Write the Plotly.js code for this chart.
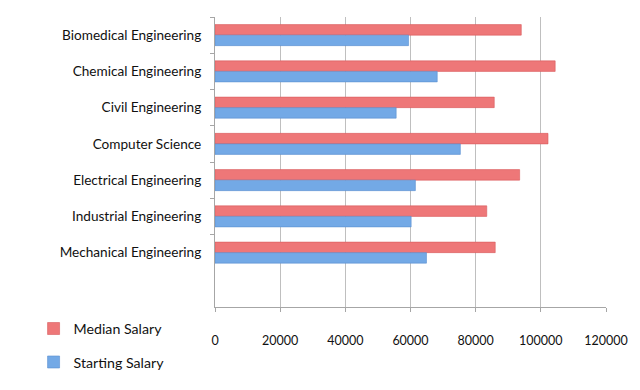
<!DOCTYPE html>
<html>
<head>
<meta charset="utf-8">
<script src="https://cdn.plot.ly/plotly-3.0.1.min.js"></script>
<style>html,body{margin:0;padding:0;background:#fff;}#chart{width:640px;height:390px;}</style>
</head>
<body>
<div id="chart"></div>
<script>
const categories = ["Biomedical Engineering","Chemical Engineering","Civil Engineering","Computer Science","Electrical Engineering","Industrial Engineering","Mechanical Engineering"];
const medianSalary = [94000,104400,85700,102200,93500,83400,86000];
const startingSalary = [59400,68200,55600,75300,61500,60200,64900];
const xTicks = [0,20000,40000,60000,80000,100000,120000];

const font = "Lato, 'Open Sans', sans-serif";
const traces = [
  {type:'bar', orientation:'h', name:'Median Salary', legendgroup:'m', y:categories, x:medianSalary,
   marker:{color:'#EE7778', line:{color:'#D95B5D', width:0.6}}},
  {type:'bar', orientation:'h', name:'Starting Salary', legendgroup:'s', y:categories, x:startingSalary,
   marker:{color:'#73A9E6', line:{color:'#5A8FD0', width:0.6}}}
];
const layout = {
  width:640, height:390,
  margin:{l:215, r:34, t:17, b:73, pad:0},
  paper_bgcolor:'#fff', plot_bgcolor:'#fff',
  font:{family:font, size:13, color:'#111'},
  barmode:'group', bargap:0.42, bargroupgap:0,
  xaxis:{range:[0,120000], tickvals:xTicks, ticktext:xTicks.map(String),
    showgrid:true, gridcolor:'#BFBFBF', gridwidth:1, zeroline:false,
    showline:true, linecolor:'#A6A6A6', linewidth:1,
    ticks:'outside', ticklen:4, tickcolor:'#A6A6A6', ticklabelstandoff:18,
    tickfont:{family:font, size:12.5, color:'#111'}},
  yaxis:{type:'category', categoryorder:'array', categoryarray:categories,
    range:[7.5,-0.5], showgrid:false, zeroline:false,
    showline:true, linecolor:'#A6A6A6', linewidth:1,
    ticks:'outside', ticklen:4, tickcolor:'#A6A6A6', tickson:'boundaries', ticklabelstandoff:10,
    tickfont:{family:font, size:13.6, color:'#111'}},
  showlegend:true,
  legend:{x:-0.464, xanchor:'left', y:-0.02, yanchor:'top', traceorder:'grouped', tracegroupgap:12,
    font:{family:font, size:14.2, color:'#111'}, bgcolor:'rgba(0,0,0,0)', itemwidth:30}
};
Plotly.newPlot('chart', traces, layout, {displayModeBar:false, staticPlot:true});
</script>
</body>
</html>
